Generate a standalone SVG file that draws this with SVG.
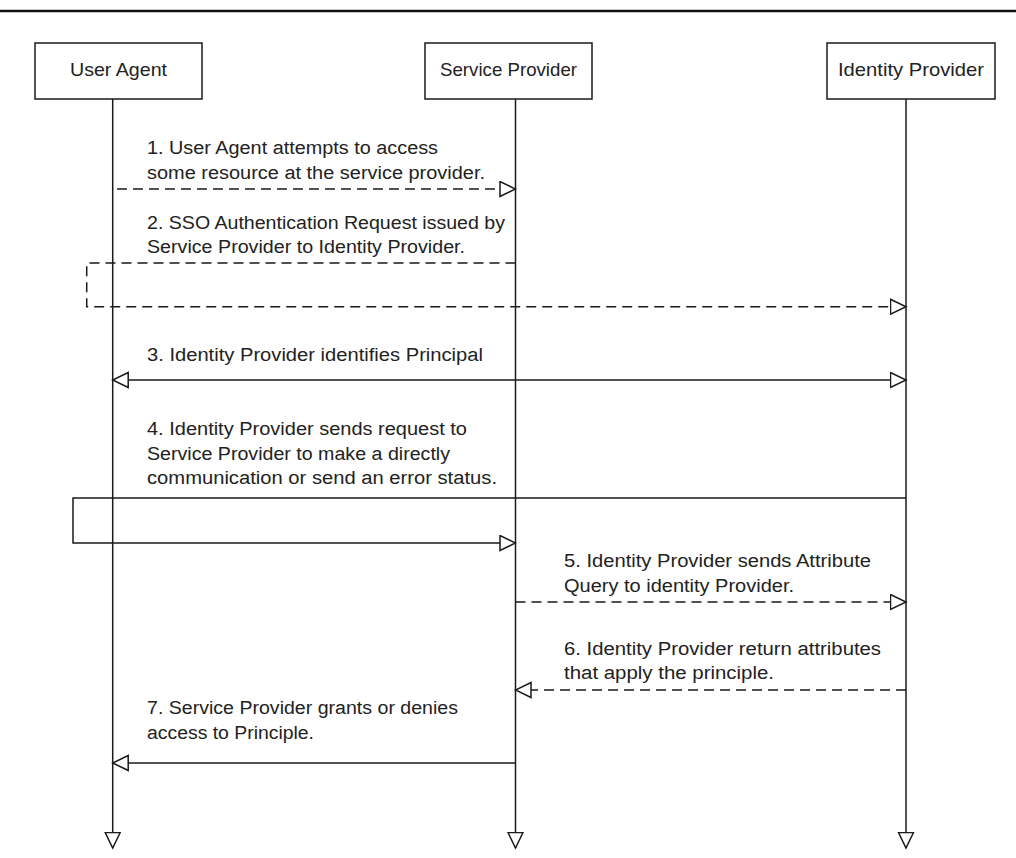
<svg xmlns="http://www.w3.org/2000/svg" width="1016" height="858" viewBox="0 0 1016 858">
<style>
.box{fill:#fff;stroke:#1a1a1a;stroke-width:1.5}
.lbl{font-family:"Liberation Sans",Arial,sans-serif;font-size:19px;fill:#222;text-anchor:middle}
.msg{font-family:"Liberation Sans",Arial,sans-serif;font-size:18px;fill:#222}
.ln{fill:none;stroke:#1a1a1a;stroke-width:1.5}
.dash{stroke-dasharray:10 6}
</style>
<defs>
<marker id="arr" markerUnits="userSpaceOnUse" markerWidth="18" markerHeight="18" viewBox="0 0 18 18" refX="16.5" refY="8.5" orient="auto-start-reverse">
<path d="M1,1 L16.5,8.5 L1,16 Z" fill="#fff" stroke="#1a1a1a" stroke-width="1.5" stroke-dasharray="none"/>
</marker>
</defs>
<rect width="1016" height="858" fill="#fff"/>
<line x1="0" y1="11" x2="1016" y2="11" stroke="#111" stroke-width="2.5"/>

<g id="user-agent">
<rect class="box" x="35" y="43" width="167" height="56"/>
<text class="lbl" x="118.5" y="76" textLength="97" lengthAdjust="spacingAndGlyphs">User Agent</text>
</g>
<g id="service-provider">
<rect class="box" x="425" y="43" width="167" height="56"/>
<text class="lbl" x="508.5" y="76" textLength="137" lengthAdjust="spacingAndGlyphs">Service Provider</text>
</g>
<g id="identity-provider">
<rect class="box" x="827" y="43" width="168" height="56"/>
<text class="lbl" x="911" y="76" textLength="146" lengthAdjust="spacingAndGlyphs">Identity Provider</text>
</g>

<g id="connectors">
<line class="ln" x1="112.7" y1="99" x2="112.7" y2="848" marker-end="url(#arr)"/>
<line class="ln" x1="515.5" y1="99" x2="515.5" y2="848" marker-end="url(#arr)"/>
<line class="ln" x1="906" y1="99" x2="906" y2="848" marker-end="url(#arr)"/>

<line class="ln dash" x1="117" y1="189" x2="515.5" y2="189" marker-end="url(#arr)"/>
<path class="ln dash" d="M515.5,263 H86.7 V306.7 H906" marker-end="url(#arr)"/>
<line class="ln" x1="112.7" y1="380" x2="906" y2="380" marker-start="url(#arr)" marker-end="url(#arr)"/>
<path class="ln" d="M906,498 H73 V543 H515.5" marker-end="url(#arr)"/>
<line class="ln dash" x1="515.5" y1="602" x2="906" y2="602" marker-end="url(#arr)"/>
<line class="ln dash" x1="906" y1="690" x2="515.5" y2="690" marker-end="url(#arr)"/>
<line class="ln" x1="515.5" y1="763" x2="112.7" y2="763" marker-end="url(#arr)"/>
</g>

<g id="labels">
<text class="msg" x="147" y="154" textLength="291" lengthAdjust="spacingAndGlyphs">1. User Agent attempts to access</text>
<text class="msg" x="147" y="179" textLength="338" lengthAdjust="spacingAndGlyphs">some resource at the service provider.</text>
<text class="msg" x="147" y="229" textLength="358" lengthAdjust="spacingAndGlyphs">2. SSO Authentication Request issued by</text>
<text class="msg" x="147" y="253" textLength="318" lengthAdjust="spacingAndGlyphs">Service Provider to Identity Provider.</text>
<text class="msg" x="147" y="361" textLength="336" lengthAdjust="spacingAndGlyphs">3. Identity Provider identifies Principal</text>
<text class="msg" x="147" y="435" textLength="320" lengthAdjust="spacingAndGlyphs">4. Identity Provider sends request to</text>
<text class="msg" x="147" y="460" textLength="303" lengthAdjust="spacingAndGlyphs">Service Provider to make a directly</text>
<text class="msg" x="147" y="484" textLength="350" lengthAdjust="spacingAndGlyphs">communication or send an error status.</text>
<text class="msg" x="564" y="567" textLength="307" lengthAdjust="spacingAndGlyphs">5. Identity Provider sends Attribute</text>
<text class="msg" x="564" y="592" textLength="230" lengthAdjust="spacingAndGlyphs">Query to identity Provider.</text>
<text class="msg" x="564" y="655" textLength="317" lengthAdjust="spacingAndGlyphs">6. Identity Provider return attributes</text>
<text class="msg" x="564" y="679" textLength="210" lengthAdjust="spacingAndGlyphs">that apply the principle.</text>
<text class="msg" x="147" y="714" textLength="311" lengthAdjust="spacingAndGlyphs">7. Service Provider grants or denies</text>
<text class="msg" x="147" y="739" textLength="167" lengthAdjust="spacingAndGlyphs">access to Principle.</text>
</g>
</svg>
